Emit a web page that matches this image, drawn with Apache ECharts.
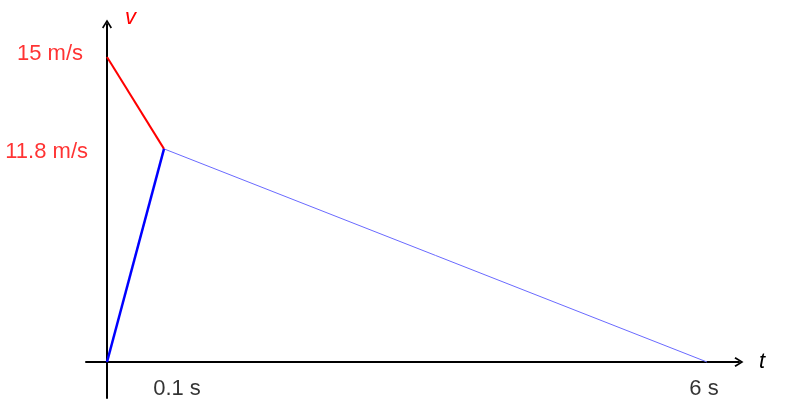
<!DOCTYPE html>
<html>
<head>
<meta charset="utf-8">
<script src="https://cdn.jsdelivr.net/npm/echarts@6/dist/echarts.min.js"></script>
<style>
html,body{margin:0;padding:0;background:#fff;}
#chart{width:800px;height:417px;}
</style>
</head>
<body>
<div id="chart"></div>
<script>
// ---- data ----
const times = [0, 0.1, 6];            // s
const speeds = [15, 11.8, 0];         // m/s : start of red segment, corner, end
const timeTickValues = [0.1, 6];
const timeTickLabels = ['0.1 s', '6 s'];
const speedTickValues = [15, 11.8];
const speedTickLabels = ['15 m/s', '11.8 m/s'];

// The figure is a schematic (not to scale): piecewise-linear axis scales
const tStops = [0, 0.1, 6], tAxis = [0, 0.57, 6];
const vStops = [0, 11.8, 15], vAxis = [0, 10.48, 15];
function piecewise(v, from, to) {
  for (let i = 0; i < from.length - 1; i++) {
    if (v <= from[i + 1]) {
      return to[i] + (v - from[i]) * (to[i + 1] - to[i]) / (from[i + 1] - from[i]);
    }
  }
  return to[to.length - 1];
}
const X = t => piecewise(t, tStops, tAxis);
const Y = v => piecewise(v, vStops, vAxis);

const FONT = 'Liberation Sans, Arial, sans-serif';
const chevron = 'path://M5,0 L10,8 L8.6,9 L5,3 L1.4,9 L0,8 Z';

const option = {
  animation: false,
  backgroundColor: '#fff',
  grid: { left: 86, right: 61, top: 24, bottom: 19 },
  xAxis: {
    type: 'value', min: -0.21, max: 6.32,
    axisLine: { onZero: true, symbol: ['none', chevron], symbolSize: [12, 9], symbolOffset: [0, 0],
      lineStyle: { color: '#000', width: 2 } },
    axisTick: { show: false }, axisLabel: { show: false }, splitLine: { show: false },
    name: 't', nameLocation: 'end', nameGap: 20,
    nameTextStyle: { color: '#000', fontStyle: 'italic', fontSize: 22, fontFamily: FONT }
  },
  yAxis: {
    type: 'value', min: -1.77, max: 16.62,
    axisLine: { onZero: true, symbol: ['none', chevron], symbolSize: [12, 9],
      lineStyle: { color: '#000', width: 2 } },
    axisTick: { show: false }, axisLabel: { show: false }, splitLine: { show: false },
    name: 'v', nameLocation: 'end', nameGap: -5,
    nameTextStyle: { color: '#ff0000', fontStyle: 'italic', fontSize: 22, fontFamily: FONT,
      align: 'left', padding: [0, 0, 0, 18] }
  },
  series: [
    { type: 'line', symbol: 'none', z: 3,
      lineStyle: { color: '#ff0000', width: 2 },
      data: [[X(times[0]), Y(speeds[0])], [X(times[1]), Y(speeds[1])]] },
    { type: 'line', symbol: 'none', z: 3,
      lineStyle: { color: '#0000ff', width: 2.5 },
      data: [[X(times[0]), Y(0)], [X(times[1]), Y(speeds[1])]] },
    { type: 'line', symbol: 'none', z: 2,
      lineStyle: { color: '#6a6aff', width: 1 },
      data: [[X(times[1]), Y(speeds[1])], [X(times[2]), Y(speeds[2])]] },
    { type: 'scatter', symbolSize: 0, silent: true,
      label: { show: true, color: '#000', fontSize: 22, fontFamily: FONT, position: 'bottom', distance: 16,
        formatter: p => p.data.name },
      data: [
        { value: [X(timeTickValues[0]), 0], name: timeTickLabels[0], label: { offset: [13, 0] } },
        { value: [X(timeTickValues[1]), 0], name: timeTickLabels[1], label: { offset: [-3, 0] } }
      ] },
    { type: 'scatter', symbolSize: 0, silent: true,
      label: { show: true, color: '#ff0000', fontSize: 22, fontFamily: FONT, position: 'left',
        formatter: p => p.data.name },
      data: [
        { value: [0, Y(speedTickValues[0])], name: speedTickLabels[0], label: { distance: 24, offset: [0, -3] } },
        { value: [0, Y(speedTickValues[1])], name: speedTickLabels[1], label: { distance: 19, offset: [0, 3] } }
      ] }
  ]
};
echarts.init(document.getElementById('chart'), null, { renderer: 'canvas' }).setOption(option);
</script>
</body>
</html>
